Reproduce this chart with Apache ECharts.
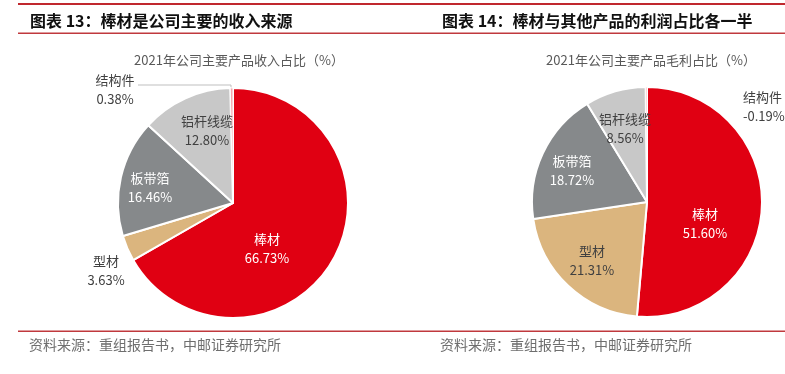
<!DOCTYPE html>
<html>
<head>
<meta charset="utf-8">
<script src="https://cdn.jsdelivr.net/npm/echarts@6/dist/echarts.min.js"></script>
<style>
html,body{margin:0;padding:0;background:#fff;}
#c{width:785px;height:374px;}
</style>
</head>
<body>
<div id="c"></div>
<script>
// ---- data ----
const categories = ['棒材', '型材', '板带箔', '铝杆线缆', '结构件'];
const revenueShare = [66.73, 3.63, 16.46, 12.80, 0.38];
const grossProfitShare = [51.60, 21.31, 18.72, 8.56, -0.19];
const headerLeft = '图表 13：棒材是公司主要的收入来源';
const headerRight = '图表 14：棒材与其他产品的利润占比各一半';
const subLeft = '2021年公司主要产品收入占比（%）';
const subRight = '2021年公司主要产品毛利占比（%）';
const sourceNote = '资料来源：重组报告书，中邮证券研究所';

// ---- styles ----
const colors = ['#E00012', '#DBB57E', '#86898B', '#C8C8C8', '#F5A5AD'];
const labelColors = ['#FFFFFF', '#404040', '#FFFFFF', '#404040', '#404040'];
const borderWidths = [2, 2, 2, 2, 1];
const FONT = '"Noto Sans CJK SC", "Noto Sans", sans-serif';

// label anchor positions (layout), per series per category
const labelPos = [
  [[267, 249, 'center'], [106, 271, 'center'], [150, 188, 'center'], [207, 131, 'center'], [115, 90, 'center']],
  [[705, 224, 'center'], [592, 261, 'center'], [572, 171, 'center'], [625, 129, 'center'], [743, 107, 'left']]
];

function buildData(values, seriesIdx) {
  return categories.map((name, i) => ({
    name: name,
    value: Math.abs(values[i]),
    itemStyle: { color: colors[i], borderColor: '#FFFFFF', borderWidth: borderWidths[i] },
    label: { color: labelColors[i] },
    labelLine: { show: seriesIdx === 0 && i === 4, lineStyle: { color: '#BFBFBF', width: 1 } }
  }));
}

function makeSeries(values, seriesIdx, center) {
  return {
    type: 'pie',
    center: center,
    radius: [0, 115],
    startAngle: 90,
    clockwise: true,
    avoidLabelOverlap: false,
    animation: false,
    label: {
      show: true,
      position: 'outside',
      fontFamily: FONT,
      fontSize: 13,
      lineHeight: 19,
      formatter: function (p) {
        return p.name + '\n' + values[p.dataIndex].toFixed(2) + '%';
      }
    },
    labelLine: { show: false },
    labelLayout: function (params) {
      const lp = labelPos[seriesIdx][params.dataIndex];
      const res = { x: lp[0], y: lp[1], align: lp[2], verticalAlign: 'middle' };
      if (seriesIdx === 0 && params.dataIndex === 4) {
        res.labelLinePoints = [[231, 89], [231, 85], [138, 85]];
      }
      return res;
    },
    emphasis: { disabled: true },
    data: buildData(values, seriesIdx)
  };
}

const chart = echarts.init(document.getElementById('c'), null, { renderer: 'canvas' });
chart.setOption({
  backgroundColor: '#FFFFFF',
  animation: false,
  graphic: [
    { type: 'rect', shape: { x: 18, y: 3, width: 767, height: 2 }, style: { fill: '#C0282E' } },
    { type: 'rect', shape: { x: 18, y: 32.5, width: 767, height: 1.5 }, style: { fill: '#C0393D' } },
    { type: 'rect', shape: { x: 18, y: 330.5, width: 767, height: 1.5 }, style: { fill: '#C0393D' } },
    { type: 'text', x: 30, y: 21, style: { text: headerLeft, fill: '#111111', fontFamily: FONT, fontSize: 16, fontWeight: 'bold', align: 'left', verticalAlign: 'middle' } },
    { type: 'text', x: 442, y: 21, style: { text: headerRight, fill: '#111111', fontFamily: FONT, fontSize: 16, fontWeight: 'bold', align: 'left', verticalAlign: 'middle' } },
    { type: 'text', x: 239, y: 60, style: { text: subLeft, fill: '#595959', fontFamily: FONT, fontSize: 13, align: 'center', verticalAlign: 'middle' } },
    { type: 'text', x: 651, y: 60, style: { text: subRight, fill: '#595959', fontFamily: FONT, fontSize: 13, align: 'center', verticalAlign: 'middle' } },
    { type: 'text', x: 29, y: 345, style: { text: sourceNote, fill: '#6E6E6E', fontFamily: FONT, fontSize: 14, align: 'left', verticalAlign: 'middle' } },
    { type: 'text', x: 440, y: 345, style: { text: sourceNote, fill: '#6E6E6E', fontFamily: FONT, fontSize: 14, align: 'left', verticalAlign: 'middle' } }
  ],
  series: [
    makeSeries(revenueShare, 0, [233, 203]),
    makeSeries(grossProfitShare, 1, [647, 202])
  ]
});
</script>
</body>
</html>
